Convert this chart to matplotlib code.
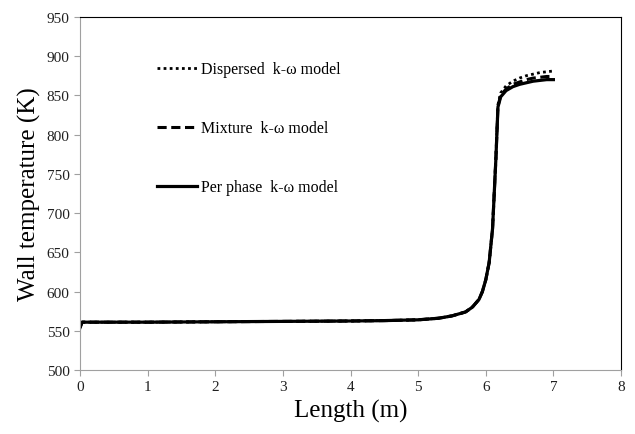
import matplotlib.pyplot as plt

plt.rcParams['font.family'] = ['Liberation Serif', 'DejaVu Serif']

# Datos
x = [0, 0.03, 0.5, 1, 2, 3, 4, 4.5, 5, 5.3, 5.5, 5.7, 5.8, 5.9, 5.95, 6.0, 6.05,
     6.1, 6.15, 6.18, 6.22, 6.3, 6.4, 6.5, 6.6, 6.7, 6.8, 6.9, 7.0]
t_perphase = [554, 561, 561, 561, 561.5, 562, 562.5, 563, 564, 566, 569, 574, 580, 590, 600,
              615, 637, 680, 770, 835, 848, 856, 861, 864, 866, 868, 869, 870, 870]
t_mixture = [554, 561, 561, 561, 561.5, 562, 562.5, 563, 564, 566, 569, 574, 580, 590, 600,
             615, 637, 680, 770, 836, 850, 858, 864, 867, 870, 872, 873, 874, 874]
t_dispersed = [554, 561, 561, 561, 561.5, 562, 562.5, 563, 564, 566, 569, 574, 580, 590, 600,
               615, 637, 680, 772, 838, 853, 862, 868, 872, 875, 877, 879, 880, 881]

fig = plt.figure(figsize=(6.35, 4.35), dpi=100)
ax = fig.add_axes([0.126, 0.147, 0.852, 0.812])

ax.plot(x, t_dispersed, color='black', linestyle=(0, (1, 1.2)), linewidth=2.0,
        label='Dispersed  k-\u03c9 model')
ax.plot(x, t_mixture, color='black', linestyle=(0, (3, 1.5)), linewidth=2.2,
        label='Mixture  k-\u03c9 model')
ax.plot(x, t_perphase, color='black', linestyle='-', linewidth=2.3,
        label='Per phase  k-\u03c9 model')

ax.set_xlim(0, 8)
ax.set_ylim(500, 950)
ax.set_xticks(range(0, 9))
ax.set_yticks(range(500, 951, 50))

for s in ['left', 'bottom']:
    ax.spines[s].set_color('#a0a0a0')
for s in ['top', 'right']:
    ax.spines[s].set_color('black')
ax.tick_params(direction='out', length=4, color='#a0a0a0', labelsize=11, labelcolor='#202020')

ax.set_xlabel('Length (m)', fontsize=18)
ax.set_ylabel('Wall temperature (K)', fontsize=18)

leg = ax.legend(loc='upper left', bbox_to_anchor=(0.115, 0.915), frameon=False,
                fontsize=11.5, handlelength=2.5, handletextpad=0.3, labelspacing=2.7)

plt.savefig('out.png', dpi=100)
